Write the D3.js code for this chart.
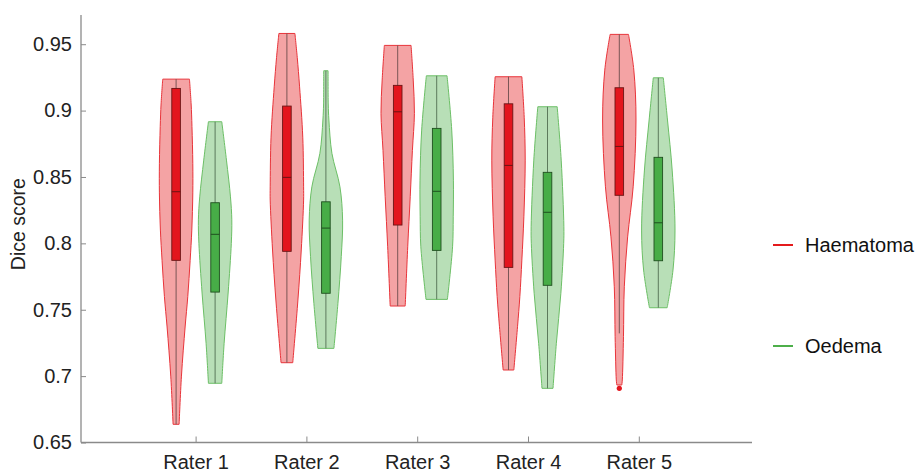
<!DOCTYPE html>
<html>
<head>
<meta charset="utf-8">
<script src="https://cdn.jsdelivr.net/npm/d3@7"></script>
<style>
  html, body { margin: 0; padding: 0; background: #fff; }
  svg { display: block; font-family: "Liberation Sans", Arial, Helvetica, sans-serif; }
</style>
</head>
<body>
<svg id="chart" width="921" height="473"></svg>
<script>
// ---------------- data ----------------
const raters = ["Rater 1", "Rater 2", "Rater 3", "Rater 4", "Rater 5"];
const seriesNames = ["Haematoma", "Oedema"];
const yTicks = [0.65, 0.7, 0.75, 0.8, 0.85, 0.9, 0.95];

// box statistics per rater: [min, q1, median, q3, max]
const haematomaStats = [
  [0.6637, 0.7872, 0.8389, 0.9167, 0.9237],
  [0.7101, 0.7940, 0.8497, 0.9034, 0.9581],
  [0.7528, 0.8138, 0.8991, 0.9190, 0.9491],
  [0.7046, 0.7819, 0.8587, 0.9051, 0.9255],
  [0.7322, 0.8362, 0.8730, 0.9172, 0.9574]
];
const oedemaStats = [
  [0.6946, 0.7633, 0.8068, 0.8306, 0.8916],
  [0.7209, 0.7624, 0.8115, 0.8313, 0.9300],
  [0.7578, 0.7947, 0.8392, 0.8866, 0.9262],
  [0.6908, 0.7684, 0.8234, 0.8535, 0.9029],
  [0.7515, 0.7869, 0.8155, 0.8648, 0.9247]
];
// outliers per rater
const haematomaOutliers = [[], [], [], [], [0.6908]];
const oedemaOutliers = [[], [], [], [], []];

// violin density profiles: [value, relative half-width]
const haematomaDensity = [
  [[0.9237,0.80],[0.905,0.90],[0.888,0.95],[0.86,1.0],[0.838,1.0],[0.81,0.94],[0.787,0.84],[0.76,0.70],[0.737,0.54],[0.70,0.32],[0.6637,0.18]],
  [[0.9581,0.48],[0.94,0.62],[0.9179,0.76],[0.88,0.95],[0.8426,1.0],[0.8326,1.0],[0.795,0.86],[0.7573,0.66],[0.7101,0.35]],
  [[0.9491,0.80],[0.923,0.93],[0.8979,1.0],[0.87,0.88],[0.8351,0.75],[0.7974,0.60],[0.7528,0.45]],
  [[0.9255,0.80],[0.895,0.94],[0.8627,1.0],[0.82,0.92],[0.7874,0.80],[0.76,0.68],[0.7372,0.54],[0.7046,0.32]],
  [[0.9574,0.55],[0.9305,0.87],[0.8929,1.0],[0.8426,0.83],[0.8049,0.50],[0.7673,0.30],[0.7297,0.25],[0.6971,0.18],[0.6933,0.15]]
];
const oedemaDensity = [
  [[0.8916,0.40],[0.8627,0.68],[0.835,0.92],[0.8177,1.0],[0.80,0.97],[0.7626,0.78],[0.7247,0.54],[0.6946,0.40]],
  [[0.9300,0.13],[0.905,0.14],[0.8929,0.18],[0.8678,0.36],[0.8426,0.84],[0.8175,1.0],[0.79,0.92],[0.7548,0.72],[0.7209,0.48]],
  [[0.9262,0.62],[0.8853,0.90],[0.8476,1.0],[0.82,0.99],[0.7974,0.95],[0.7578,0.64]],
  [[0.9029,0.58],[0.8627,0.82],[0.8125,0.98],[0.80,0.97],[0.7624,0.80],[0.7247,0.53],[0.6908,0.33]],
  [[0.9247,0.30],[0.8929,0.55],[0.8552,0.83],[0.81,1.0],[0.7799,0.88],[0.7515,0.53]]
];

// ---------------- layout ----------------
const svg = d3.select("#chart");
const plot = { left: 81, right: 752, top: 15, bottom: 442.5 };

const x = d3.scaleLinear().domain([0, 6]).range([84.8, 749.6]);
const y = d3.scaleLinear().domain([0.65, 0.972]).range([plot.bottom, plot.top]);
const groupOffset = 0.176;      // x-units from rater centre to each violin
const maxHalf = 16.7;           // px
const boxHalf = 4.3;            // px

const styles = [
  { fill: "#e41a1c", fillOpacity: 0.4, stroke: "#e8343a", box: "#e3151d", boxStroke: "#6a1414", whisker: "#7a5555" },
  { fill: "#4daf4a", fillOpacity: 0.4, stroke: "#6cbf66", box: "#47ad47", boxStroke: "#1f4f1f", whisker: "#5c7a5c" }
];

const stats = [haematomaStats, oedemaStats];
const dens = [haematomaDensity, oedemaDensity];
const outs = [haematomaOutliers, oedemaOutliers];

// axes
const axisColor = "#8a8a8a";
svg.append("line").attr("x1", plot.left).attr("x2", plot.left)
  .attr("y1", plot.top).attr("y2", plot.bottom)
  .attr("stroke", axisColor).attr("stroke-width", 1.3);
svg.append("line").attr("x1", plot.left).attr("x2", plot.right)
  .attr("y1", plot.bottom).attr("y2", plot.bottom)
  .attr("stroke", axisColor).attr("stroke-width", 1.3);

const yAxis = d3.axisLeft(y).tickValues(yTicks).tickSize(-5).tickPadding(9)
  .tickFormat(d => d3.format("")(+d.toFixed(2)));
const gy = svg.append("g").attr("transform", `translate(${plot.left},0)`).call(yAxis);
gy.select(".domain").remove();
gy.selectAll(".tick line").attr("stroke", axisColor).attr("stroke-width", 1);
gy.selectAll(".tick text").attr("font-size", 20).attr("fill", "#222")
  .attr("font-family", "Liberation Sans, Arial, sans-serif");

const xAxis = d3.axisBottom(x).tickValues(d3.range(1, raters.length + 1))
  .tickSize(-6).tickPadding(12).tickFormat(d => raters[d - 1]);
const gx = svg.append("g").attr("transform", `translate(0,${plot.bottom})`).call(xAxis);
gx.select(".domain").remove();
gx.selectAll(".tick line").attr("stroke", axisColor).attr("stroke-width", 1);
gx.selectAll(".tick text").attr("font-size", 20).attr("fill", "#222")
  .attr("font-family", "Liberation Sans, Arial, sans-serif");

svg.append("text")
  .attr("transform", `translate(25,${y(0.8145)}) rotate(-90)`)
  .attr("text-anchor", "middle")
  .attr("font-size", 19.5).attr("fill", "#222")
  .text("Dice score");

// violins
const g = svg.append("g");
stats.forEach((serie, si) => {
  const st = styles[si];
  serie.forEach((s, i) => {
    const cx = x(i + 1 + (si === 0 ? -groupOffset : groupOffset));
    const area = d3.area()
      .curve(d3.curveCatmullRom.alpha(0.5))
      .y(d => y(d[0]))
      .x0(d => cx - d[1] * maxHalf)
      .x1(d => cx + d[1] * maxHalf);
    g.append("path").attr("d", area(dens[si][i]))
      .attr("fill", st.fill).attr("fill-opacity", st.fillOpacity)
      .attr("stroke", st.stroke).attr("stroke-width", 1);
    // whisker line
    g.append("line").attr("x1", cx).attr("x2", cx)
      .attr("y1", y(s[0])).attr("y2", y(s[4]))
      .attr("stroke", st.whisker).attr("stroke-width", 1);
    // box
    g.append("rect").attr("x", cx - boxHalf).attr("width", boxHalf * 2)
      .attr("y", y(s[3])).attr("height", y(s[1]) - y(s[3]))
      .attr("fill", st.box).attr("stroke", st.boxStroke).attr("stroke-width", 0.9);
    // median
    g.append("line").attr("x1", cx - boxHalf).attr("x2", cx + boxHalf)
      .attr("y1", y(s[2])).attr("y2", y(s[2]))
      .attr("stroke", st.boxStroke).attr("stroke-width", 1);
    // outliers
    outs[si][i].forEach(o => {
      g.append("circle").attr("cx", cx).attr("cy", y(o)).attr("r", 2.6)
        .attr("fill", st.box);
    });
  });
});

// legend
const legendY = [245, 346];
seriesNames.forEach((n, si) => {
  svg.append("line").attr("x1", 773).attr("x2", 793)
    .attr("y1", legendY[si]).attr("y2", legendY[si])
    .attr("stroke", si === 0 ? "#e41a1c" : "#4daf4a").attr("stroke-width", 2);
  svg.append("text").attr("x", 805).attr("y", legendY[si]).attr("dy", "0.35em")
    .attr("font-size", 20).attr("fill", "#111").text(n);
});
</script>
</body>
</html>
